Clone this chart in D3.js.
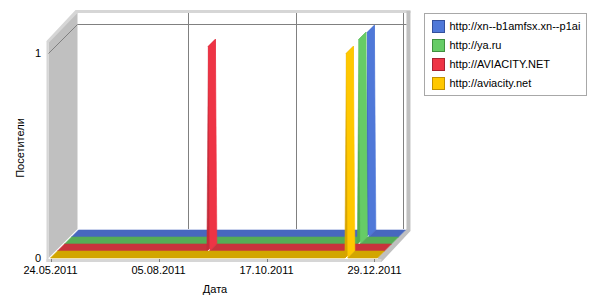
<!DOCTYPE html>
<html>
<head>
<meta charset="utf-8">
<script src="https://cdn.jsdelivr.net/npm/d3@7"></script>
<style>
  body { margin: 0; background: #fff; }
  svg text { font-family: "Liberation Sans", Arial, sans-serif; font-size: 11px; fill: #000; }
</style>
</head>
<body>
<svg id="chart" width="600" height="300"></svg>
<script>
// Visitors per site, 3D line chart (each site sits on its own depth row)

const siteNames = ["http://xn--b1amfsx.xn--p1ai", "http://ya.ru", "http://AVIACITY.NET", "http://aviacity.net"];

const siteDates = [
  ["24.05.2011", "09.12.2011", "10.12.2011", "11.12.2011", "31.12.2011"],
  ["24.05.2011", "08.12.2011", "09.12.2011", "10.12.2011", "31.12.2011"],
  ["24.05.2011", "02.09.2011", "03.09.2011", "04.09.2011", "31.12.2011"],
  ["24.05.2011", "09.12.2011", "10.12.2011", "11.12.2011", "31.12.2011"]
];

const siteVisits = [
  [0, 0, 1, 0, 0],
  [0, 0, 1, 0, 0],
  [0, 0, 1, 0, 0],
  [0, 0, 1, 0, 0]
];

const xTickLabels = ["24.05.2011", "05.08.2011", "17.10.2011", "29.12.2011"];
const yTickValues = [0, 1];

// colours: bright face, ribbon top, legend border
const faceColors = ["#4f78d8", "#66cc66", "#ee3445", "#ffc800"];
const darkColors = ["#3f63c2", "#52ab52", "#c42c3a", "#d8a400"];
const bandColors = ["#4767bf", "#56ac56", "#c8323c", "#d2a600"];
const edgeColors = ["#33509c", "#3f8f3f", "#a52232", "#c09000"];

const parseDate = d3.timeParse("%d.%m.%Y");

const svg = d3.select("#chart");

// front plane scales
const x = d3.scaleTime()
  .domain([parseDate("24.05.2011"), parseDate("31.12.2011")])
  .range([50.5, 50.5 + 221 * 108 / 73]);

const y = d3.scaleLinear()
  .domain([0, 1.06])
  .range([258, 41]);

const rowDepth = 7;        // one series row
const wallDepth = 29;      // whole box depth

const x0 = x.range()[0] - 2, x1 = x.range()[1];
const yTop = y.range()[1], yBottom = y.range()[0];

const line = d3.line();

// ---- walls ----

// back wall
svg.append("rect")
  .attr("x", x0 + wallDepth).attr("y", yTop - wallDepth)
  .attr("width", x1 - x0).attr("height", yBottom - yTop)
  .attr("fill", "#fff");

// left wall
svg.append("path")
  .attr("d", line([[x0, yTop], [x0 + wallDepth, yTop - wallDepth], [x0 + wallDepth, yBottom - wallDepth], [x0, yBottom]]) + "Z")
  .attr("fill", "#c0c0c0");

// wall top edge
svg.append("path")
  .attr("d", line([[x0 - 2, yTop], [x0 + wallDepth - 2, yTop - wallDepth - 2], [x1 + wallDepth + 4, yTop - wallDepth - 2],
    [x1 + wallDepth + 4, yTop - wallDepth + 1], [x0 + wallDepth, yTop - wallDepth + 1], [x0, yTop + 2]]) + "Z")
  .attr("fill", "#d6d6d6");

// left wall front edge
svg.append("rect")
  .attr("x", x0 - 2).attr("y", yTop)
  .attr("width", 2).attr("height", yBottom - yTop + 4)
  .attr("fill", "#d6d6d6");

// right edge of back wall
svg.append("rect")
  .attr("x", x1 + wallDepth).attr("y", yTop - wallDepth - 1)
  .attr("width", 4).attr("height", yBottom - yTop + 3)
  .attr("fill", "#c0c0c0");

// floor right edge and front edge
svg.append("path")
  .attr("d", line([[x1, yBottom], [x1 + wallDepth, yBottom - wallDepth], [x1 + wallDepth + 4, yBottom - wallDepth + 2], [x1 + 4, yBottom + 4]]) + "Z")
  .attr("fill", "#c0c0c0");

svg.append("rect")
  .attr("x", x0 - 2).attr("y", yBottom + 1)
  .attr("width", x1 - x0 + 6).attr("height", 3)
  .attr("fill", "#d6d6d6");

// ---- grid ----

const tickDates = xTickLabels.map(parseDate);
const grid = svg.append("g").attr("stroke", "#808080").attr("stroke-width", 1).attr("fill", "none");

grid.selectAll(".vgrid")
  .data(tickDates.slice(1))
  .join("line")
  .attr("x1", d => Math.round(x(d)) + wallDepth + 0.5)
  .attr("x2", d => Math.round(x(d)) + wallDepth + 0.5)
  .attr("y1", yTop - wallDepth + 1)
  .attr("y2", yBottom - wallDepth);

yTickValues.filter(v => v > 0).forEach(v => {
  const yy = Math.round(y(v)) + 0.5;
  grid.append("path")
    .attr("d", line([[x0, yy], [x0 + wallDepth, yy - wallDepth], [x1 + wallDepth, yy - wallDepth]]));
});

// x ticks
grid.selectAll(".xtick")
  .data(tickDates)
  .join("line")
  .attr("x1", d => Math.round(x(d)) + 0.5)
  .attr("x2", d => Math.round(x(d)) + 0.5)
  .attr("y1", yBottom + 1)
  .attr("y2", yBottom + 4);

// ---- series ribbons, back row first ----

siteNames.forEach((name, i) => {

  const depth = (siteNames.length - 1 - i) * rowDepth;
  const pts = siteDates[i].map((d, j) => [x(parseDate(d)) + depth, y(siteVisits[i][j]) - depth]);
  const g = svg.append("g");

  for (let j = 0; j < pts.length - 1; j++) {

    const a = pts[j], b = pts[j + 1];
    const flat = a[1] === b[1];
    const rising = b[1] < a[1];

    g.append("path")
      .attr("d", line([a, b, [b[0] + rowDepth, b[1] - rowDepth], [a[0] + rowDepth, a[1] - rowDepth]]) + "Z")
      .attr("fill", flat ? bandColors[i] : (rising ? darkColors[i] : faceColors[i]))
      .attr("stroke", flat ? bandColors[i] : (rising ? darkColors[i] : faceColors[i]))
      .attr("stroke-width", 0.6);
  }
});

// ---- axis texts ----

svg.selectAll(".ylabel")
  .data(yTickValues)
  .join("text")
  .attr("x", 41)
  .attr("y", d => y(d))
  .attr("dy", "0.36em")
  .attr("text-anchor", "end")
  .text(d => d);

svg.selectAll(".xlabel")
  .data(tickDates)
  .join("text")
  .attr("x", d => x(d))
  .attr("y", 274)
  .attr("text-anchor", "middle")
  .text((d, i) => xTickLabels[i]);

svg.append("text")
  .attr("x", 215)
  .attr("y", 293)
  .attr("text-anchor", "middle")
  .text("Дата");

svg.append("text")
  .attr("transform", "translate(24,148) rotate(-90)")
  .attr("text-anchor", "middle")
  .text("Посетители");

// ---- legend ----

const legend = svg.append("g").attr("transform", "translate(424.5,13.5)");

legend.append("rect")
  .attr("width", 162).attr("height", 82)
  .attr("fill", "#fff")
  .attr("stroke", "#a8a8a8");

const items = legend.selectAll(".item")
  .data(siteNames)
  .join("g")
  .attr("transform", (d, i) => "translate(8," + (7 + i * 19) + ")");

items.append("rect")
  .attr("width", 12).attr("height", 12)
  .attr("fill", (d, i) => faceColors[i])
  .attr("stroke", (d, i) => edgeColors[i]);

items.append("text")
  .attr("x", 17)
  .attr("y", 6)
  .attr("dy", "0.36em")
  .text(d => d);
</script>
</body>
</html>
